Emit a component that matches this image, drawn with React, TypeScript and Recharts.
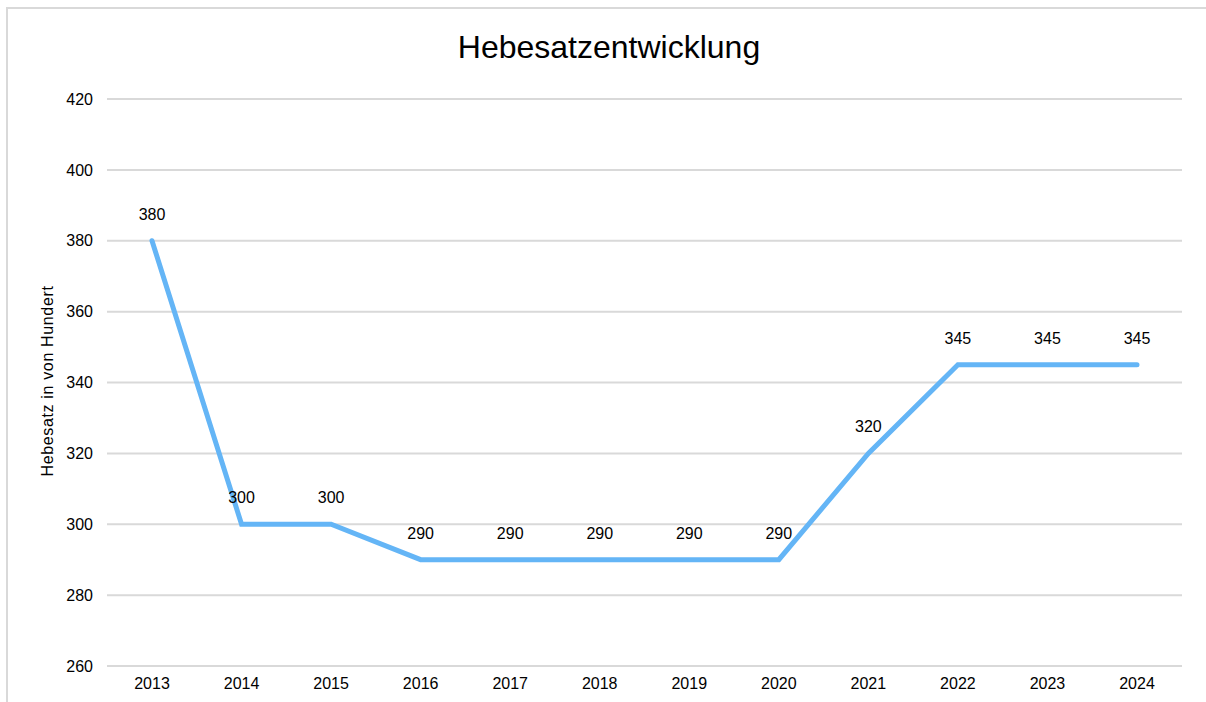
import React from "react"
import { LineChart, Line, XAxis, YAxis, CartesianGrid, LabelList } from "recharts"

const years = ["2013", "2014", "2015", "2016", "2017", "2018", "2019", "2020", "2021", "2022", "2023", "2024"]
const hebesatz = [380, 300, 300, 290, 290, 290, 290, 290, 320, 345, 345, 345]
const yTicks = [260, 280, 300, 320, 340, 360, 380, 400, 420]

const data = years.map((year, i) => ({ year, value: hebesatz[i] }))

const font = "'Liberation Sans', Arial, sans-serif"

export default function App() {
  return (
    <div style={{ position: "absolute", left: 0, top: 0, width: 1206, height: 702, overflow: "hidden", background: "#fff", fontFamily: font }}>
      <div
        style={{
          position: "absolute",
          left: 6,
          top: 7,
          width: 1300,
          height: 800,
          borderTop: "2px solid #d9d9d9",
          borderLeft: "2px solid #d9d9d9",
        }}
      />
      <div style={{ position: "absolute", left: 0, top: 29, width: 1218, textAlign: "center", fontSize: 32, color: "#000" }}>
        Hebesatzentwicklung
      </div>
      <div
        style={{
          position: "absolute",
          left: 48,
          top: 381,
          transform: "translate(-50%, -50%) rotate(-90deg)",
          whiteSpace: "nowrap",
          fontSize: 16,
          letterSpacing: 0.65,
          color: "#000",
        }}
      >
        Hebesatz in von Hundert
      </div>
      <div style={{ position: "absolute", left: 0, top: 0 }}>
        <LineChart width={1206} height={702} data={data} margin={{ top: 99, right: 24, bottom: 6, left: 47 }}>
          <CartesianGrid vertical={false} stroke="#d9d9d9" strokeWidth={2} />
          <XAxis
            dataKey="year"
            axisLine={false}
            tickLine={false}
            tickSize={0}
            tickMargin={12}
            height={30}
            padding={{ left: 45, right: 45 }}
            tick={{ fill: "#000", fontSize: 16, fontFamily: font }}
          />
          <YAxis
            domain={[260, 420]}
            ticks={yTicks}
            axisLine={false}
            tickLine={false}
            tickSize={0}
            tickMargin={14}
            width={60}
            tick={{ fill: "#000", fontSize: 16, fontFamily: font }}
          />
          <Line
            type="linear"
            dataKey="value"
            stroke="#64b5f6"
            strokeWidth={5}
            strokeLinecap="round"
            dot={false}
            activeDot={false}
            isAnimationActive={false}
          >
            <LabelList dataKey="value" position="top" offset={21} fill="#000" fontSize={16} fontFamily={font} />
          </Line>
        </LineChart>
      </div>
    </div>
  )
}
